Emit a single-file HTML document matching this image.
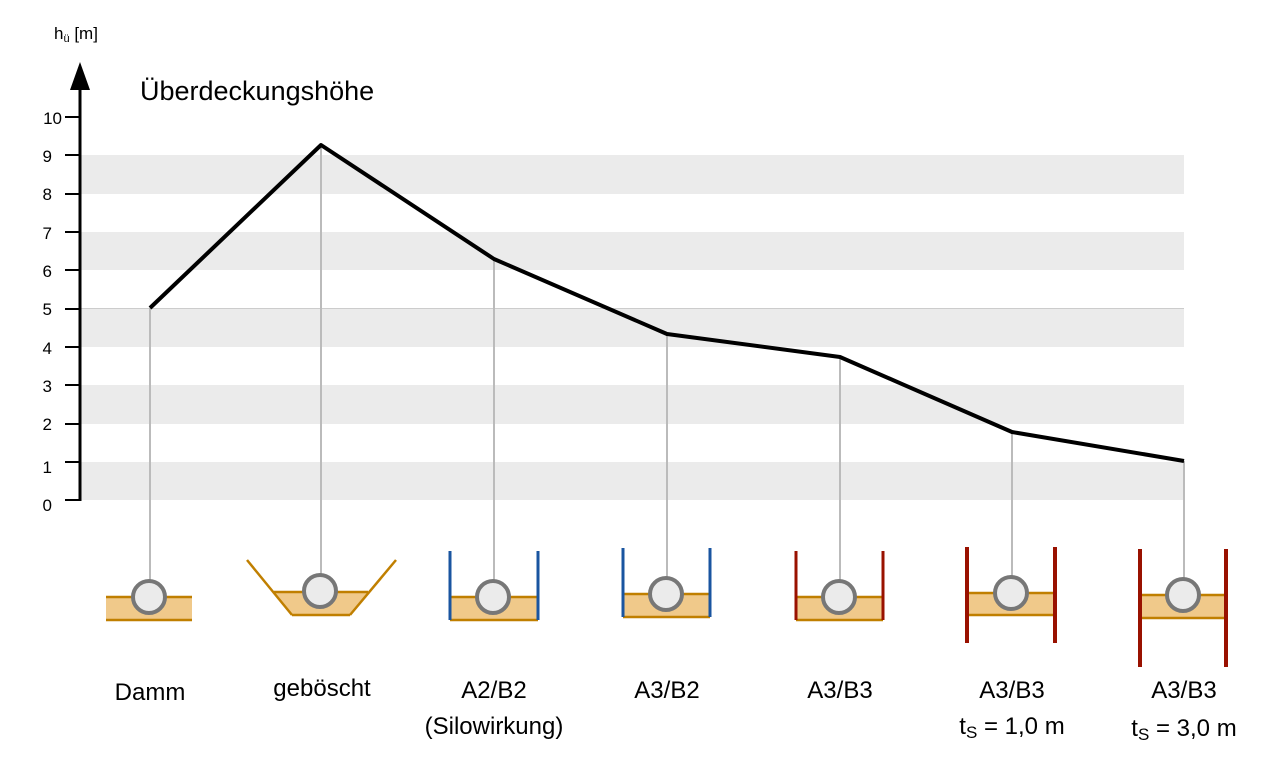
<!DOCTYPE html>
<html><head><meta charset="utf-8"><style>body{margin:0;background:#fff}svg{display:block}text{font-family:"Liberation Sans",sans-serif;fill:#000}</style></head>
<body>
<svg width="1280" height="760" viewBox="0 0 1280 760">
<g fill="#ebebeb">
<rect x="80" y="462" width="1104" height="38"/>
<rect x="80" y="385" width="1104" height="39"/>
<rect x="80" y="309" width="1104" height="38"/>
<rect x="80" y="232" width="1104" height="38"/>
<rect x="80" y="155" width="1104" height="39"/>
</g>
<line x1="80" y1="308.5" x2="1184" y2="308.5" stroke="#ccc" stroke-width="1"/>
<g stroke="#bbb" stroke-width="2">
<line x1="150" y1="308" x2="150" y2="582"/>
<line x1="321" y1="145" x2="321" y2="576"/>
<line x1="494" y1="259" x2="494" y2="582"/>
<line x1="667" y1="334" x2="667" y2="579"/>
<line x1="840" y1="357" x2="840" y2="582"/>
<line x1="1012" y1="432" x2="1012" y2="578"/>
<line x1="1184" y1="461" x2="1184" y2="580"/>
</g>
<line x1="80" y1="501" x2="80" y2="85" stroke="#000" stroke-width="3"/>
<polygon points="80,62 70,90 90,90" fill="#000"/>
<g stroke="#000" stroke-width="2">
<line x1="65" y1="500" x2="80" y2="500"/><line x1="65" y1="462" x2="80" y2="462"/>
<line x1="65" y1="424" x2="80" y2="424"/><line x1="65" y1="385" x2="80" y2="385"/>
<line x1="65" y1="347" x2="80" y2="347"/><line x1="65" y1="309" x2="80" y2="309"/>
<line x1="65" y1="270" x2="80" y2="270"/><line x1="65" y1="232" x2="80" y2="232"/>
<line x1="65" y1="194" x2="80" y2="194"/><line x1="65" y1="155" x2="80" y2="155"/>
<line x1="65" y1="117" x2="80" y2="117"/>
</g>
<g font-size="17" text-anchor="end">
<text x="52" y="511">0</text><text x="52" y="473">1</text><text x="52" y="430">2</text>
<text x="52" y="392">3</text><text x="52" y="354">4</text><text x="52" y="315">5</text>
<text x="52" y="277">6</text><text x="52" y="239">7</text><text x="52" y="200">8</text>
<text x="52" y="162">9</text><text x="62" y="124">10</text>
</g>
<text x="54" y="39" font-size="17">h<tspan font-size="11" dy="3">ü</tspan><tspan dy="-3"> [m]</tspan></text>
<text x="140" y="100" font-size="27">Überdeckungshöhe</text>
<polyline points="150,308 321,145 494,259 667,334 840,357 1012,432 1184,461" fill="none" stroke="#000" stroke-width="4" stroke-linejoin="round"/>
<g fill="#f0c98a">
<rect x="106" y="597" width="86" height="23"/>
<polygon points="274,592 368,592 350,615 292,615"/>
<rect x="450" y="597" width="88" height="23"/>
<rect x="623" y="594" width="87" height="23"/>
<rect x="796" y="597" width="87" height="23"/>
<rect x="969" y="593" width="86" height="22"/>
<rect x="1141" y="595" width="85" height="23"/>
</g>
<g stroke="#c07f00" stroke-width="2.5" fill="none">
<line x1="106" y1="597" x2="192" y2="597"/><line x1="106" y1="620" x2="192" y2="620"/>
<line x1="274" y1="592" x2="368" y2="592"/><line x1="292" y1="615" x2="350" y2="615"/>
<line x1="247" y1="560" x2="292" y2="615"/><line x1="396" y1="560" x2="350" y2="615"/>
<line x1="450" y1="597" x2="538" y2="597"/><line x1="450" y1="620" x2="538" y2="620"/>
<line x1="623" y1="594" x2="710" y2="594"/><line x1="623" y1="617" x2="710" y2="617"/>
<line x1="796" y1="597" x2="883" y2="597"/><line x1="796" y1="620" x2="883" y2="620"/>
<line x1="969" y1="593" x2="1055" y2="593"/><line x1="969" y1="615" x2="1055" y2="615"/>
<line x1="1141" y1="595" x2="1226" y2="595"/><line x1="1141" y1="618" x2="1226" y2="618"/>
</g>
<g stroke="#1a55a0" stroke-width="3"><line x1="450" y1="551" x2="450" y2="620"/><line x1="538" y1="551" x2="538" y2="620"/><line x1="623" y1="548" x2="623" y2="617"/><line x1="710" y1="548" x2="710" y2="617"/></g>
<g stroke="#991100"><line x1="796" y1="551" x2="796" y2="620" stroke-width="3"/><line x1="883" y1="551" x2="883" y2="620" stroke-width="3"/>
<line x1="967" y1="547" x2="967" y2="643" stroke-width="4"/><line x1="1055" y1="547" x2="1055" y2="643" stroke-width="4"/>
<line x1="1140" y1="549" x2="1140" y2="667" stroke-width="4"/><line x1="1226" y1="549" x2="1226" y2="667" stroke-width="4"/></g>
<g fill="#ebebeb" stroke="#777" stroke-width="4">
<circle cx="149" cy="597" r="16"/><circle cx="320" cy="591" r="16"/><circle cx="493" cy="597" r="16"/>
<circle cx="666" cy="594" r="16"/><circle cx="839" cy="597" r="16"/><circle cx="1011" cy="593" r="16"/><circle cx="1183" cy="595" r="16"/>
</g>
<g font-size="24" text-anchor="middle">
<text x="150" y="700">Damm</text>
<text x="322" y="696">geböscht</text>
<text x="494" y="698">A2/B2</text>
<text x="494" y="734">(Silowirkung)</text>
<text x="667" y="698">A3/B2</text>
<text x="840" y="698">A3/B3</text>
<text x="1012" y="698">A3/B3</text>
<text x="1012" y="734">t<tspan font-size="17" dy="4">S</tspan><tspan dy="-4">  = 1,0 m</tspan></text>
<text x="1184" y="698">A3/B3</text>
<text x="1184" y="736">t<tspan font-size="17" dy="4">S</tspan><tspan dy="-4">  = 3,0 m</tspan></text>
</g>
</svg>
</body></html>
